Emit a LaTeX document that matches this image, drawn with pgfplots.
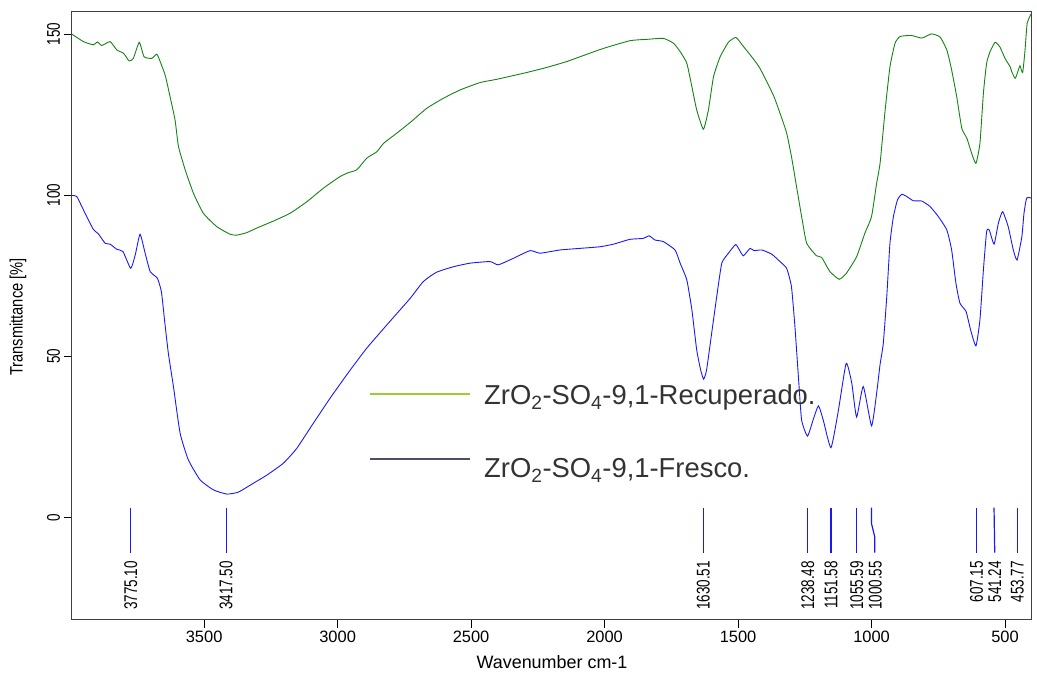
\documentclass[border=0pt]{standalone}
\usepackage{fontspec}
\setmainfont{Liberation Sans}
\usepackage{pgfplots}
\pgfplotsset{compat=1.18}
\usepackage{pgfplotstable}

\definecolor{verdeR}{RGB}{20,130,20}
\definecolor{azulR}{RGB}{25,25,245}
\definecolor{legverde}{RGB}{154,205,50}
\definecolor{leggris}{RGB}{80,80,100}

\tikzset{
  peak/.style={azulR, line width=1.2bp},
  peaklab/.style={rotate=90, xscale=0.82, yscale=1.12, anchor=east, inner sep=0pt,
    font=\fontsize{16.5}{18}\selectfont},
}

% ZrO2-SO4-9,1-Recuperado (numero de onda, transmitancia)
\pgfplotstableread{
w T
3995 150.0
3952 147.7
3915 146.7
3900 147.6
3883 146.5
3852 147.7
3827 145.1
3802 144.1
3781 141.7
3765 142.5
3743 147.5
3725 143.0
3696 142.5
3677 143.8
3660 140.5
3645 137.0
3630 131.5
3609 123.4
3596 115.1
3571 107.9
3540 100.6
3503 94.4
3452 90.2
3403 87.9
3378 87.6
3340 88.4
3303 89.8
3240 92.0
3178 94.4
3115 98.0
3053 102.2
2991 105.8
2960 107.0
2928 107.9
2891 111.5
2853 113.5
2828 116.1
2778 119.3
2728 122.6
2666 127.0
2604 130.1
2541 132.7
2466 135.0
2404 136.0
2292 138.1
2216 139.7
2142 141.5
2092 143.0
2004 145.6
1904 148.0
1842 148.4
1780 148.7
1742 147.2
1717 144.6
1692 141.0
1673 133.7
1655 126.5
1630 120.5
1611 126.5
1592 136.8
1567 143.0
1536 147.5
1508 149.0
1480 146.2
1449 143.0
1418 139.4
1368 131.1
1343 125.5
1318 119.3
1300 112.0
1281 102.7
1262 93.4
1243 85.1
1206 81.2
1187 80.7
1156 76.3
1121 73.9
1094 75.8
1056 80.9
1025 88.2
1000 93.4
981 103.7
968 110.0
949 126.5
931 139.9
912 147.2
893 149.3
850 149.6
812 148.8
775 150.1
743 149.1
718 145.1
700 138.9
681 130.6
662 120.8
643 117.7
625 113.0
609 109.9
594 116.1
581 131.7
569 141.0
556 144.6
537 147.5
519 146.0
500 142.5
481 139.9
475 138.4
462 136.3
450 138.9
444 140.2
434 138.1
425 145.1
417 153.4
401 156.5
}\recuperado

% ZrO2-SO4-9,1-Fresco
\pgfplotstableread{
w T
3995 99.9
3977 99.6
3946 94.4
3915 89.4
3896 88.0
3871 85.1
3852 84.8
3827 83.2
3804 82.5
3775 77.3
3758 81.5
3740 87.9
3721 82.0
3702 76.3
3675 74.2
3660 70.0
3648 61.0
3634 50.9
3615 40.6
3590 26.1
3559 17.8
3515 11.6
3465 8.5
3415 7.2
3372 7.8
3315 10.6
3265 13.1
3203 16.8
3153 21.4
3091 29.2
3028 37.0
2953 45.7
2891 52.5
2816 59.7
2728 68.0
2679 73.2
2629 76.1
2566 77.8
2504 78.9
2429 79.4
2398 78.4
2342 80.4
2279 82.8
2242 82.0
2167 83.0
2092 83.5
2017 84.0
1967 84.8
1905 86.3
1855 86.6
1833 87.4
1811 86.1
1780 85.6
1736 83.0
1717 78.9
1692 73.7
1673 64.4
1655 52.0
1640 45.7
1629 42.9
1618 45.7
1599 57.1
1580 68.5
1561 78.9
1536 82.0
1509 84.7
1495 83.0
1480 81.2
1455 83.5
1440 82.8
1411 83.0
1374 81.7
1343 79.4
1318 77.3
1300 71.6
1287 59.2
1274 43.7
1262 30.2
1240 25.2
1219 30.2
1199 34.6
1181 30.2
1152 21.6
1124 33.3
1095 47.8
1074 41.6
1056 31.1
1031 40.6
1000 28.4
981 38.5
968 47.5
956 54.0
943 68.5
931 85.1
918 93.4
903 98.5
887 100.3
868 99.6
844 98.3
812 98.2
781 96.5
750 93.4
718 89.2
700 83.0
684 72.7
669 66.5
646 63.9
629 58.2
609 53.2
594 61.3
581 76.8
569 88.7
559 89.2
541 84.8
525 91.3
509 94.9
488 90.2
469 83.0
455 79.9
437 87.1
429 94.4
419 99.1
401 99.1
}\fresco

\begin{document}
\begin{tikzpicture}
\path[use as bounding box] (0,0) rectangle (1037bp,677bp);
\begin{axis}[
  at={(72bp,57bp)}, anchor=south west,
  scale only axis, width=960bp, height=608bp,
  x dir=reverse,
  xmin=399, xmax=3995, ymin=-31.9, ymax=156.9,
  xtick={500,1000,...,3500}, ytick={0,50,100,150},
  tick pos=left, tick align=outside, major tick length=8bp,
  tick style={black, line width=0.8bp},
  axis line style={black!75, line width=1bp},
  ticklabel style={font=\fontsize{16.5}{18}\selectfont},
  /pgf/number format/assume math mode=true,
  /pgf/number format/1000 sep={},
  yticklabel style={rotate=90, xscale=0.82, yscale=1.12, anchor=south},
  xticklabel style={anchor=north},
]
\addplot[verdeR, line width=0.9bp, smooth, tension=0.3] table[x=w, y=T] {\recuperado};
\addplot[azulR, line width=0.9bp, smooth, tension=0.3] table[x=w, y=T] {\fresco};

\addplot[peak] coordinates {(3775.10,3) (3775.10,-11)};
\addplot[peak] coordinates {(3417.50,3) (3417.50,-11)};
\addplot[peak] coordinates {(1630.51,3) (1630.51,-11)};
\addplot[peak] coordinates {(1238.48,3) (1238.48,-11)};
\addplot[peak] coordinates {(1151.58,3) (1151.58,-11)};
\addplot[peak] coordinates {(1055.59,3) (1055.59,-11)};
\addplot[peak] coordinates {(1000.55,3) (1000.55,-1.8) (988,-6.1) (988,-11)};
\addplot[peak] coordinates {(607.15,3) (607.15,-11)};
\addplot[peak] coordinates {(541.24,3) (538.5,-11)};
\addplot[peak] coordinates {(453.77,3) (453.77,-11)};

\node[peaklab] at (axis cs:3775.10,-13.6) {3775.10};
\node[peaklab] at (axis cs:3417.50,-13.6) {3417.50};
\node[peaklab] at (axis cs:1630.51,-13.6) {1630.51};
\node[peaklab] at (axis cs:1238.48,-13.6) {1238.48};
\node[peaklab] at (axis cs:1151.58,-13.6) {1151.58};
\node[peaklab] at (axis cs:1055.59,-13.6) {1055.59};
\node[peaklab] at (axis cs:986,-13.6) {1000.55};
\node[peaklab] at (axis cs:607.15,-13.6) {607.15};
\node[peaklab] at (axis cs:538.5,-13.6) {541.24};
\node[peaklab] at (axis cs:453.77,-13.6) {453.77};
\end{axis}

% leyenda
\draw[legverde, line width=2bp] (370bp,283bp) -- (470bp,283bp);
\node[anchor=base west, inner sep=0pt, text=black!80, font=\fontsize{27.5}{30}\selectfont]
  at (484bp,272bp) {ZrO\textsubscript{2}-SO\textsubscript{4}-9,1-Recuperado.};
\draw[leggris, line width=2bp] (370bp,218bp) -- (470bp,218bp);
\node[anchor=base west, inner sep=0pt, text=black!80, font=\fontsize{27.5}{30}\selectfont]
  at (484bp,199bp) {ZrO\textsubscript{2}-SO\textsubscript{4}-9,1-Fresco.};

% etiquetas de ejes
\node[font=\fontsize{18}{20}\selectfont] at (552bp,15bp) {Wavenumber cm-1};
\node[rotate=90, xscale=0.82, font=\fontsize{18}{20}\selectfont] at (18bp,360bp) {Transmittance [\%]};
\end{tikzpicture}
\end{document}
